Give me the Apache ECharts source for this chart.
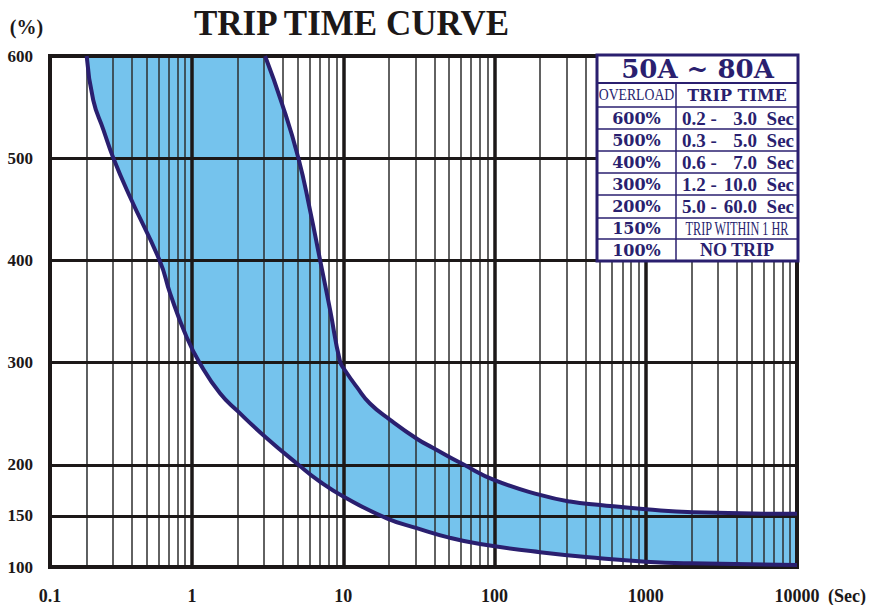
<!DOCTYPE html>
<html><head><meta charset="utf-8">
<script src="https://cdn.jsdelivr.net/npm/echarts@6/dist/echarts.min.js"></script>
<style>html,body{margin:0;padding:0;background:#fff}#c{width:871px;height:605px}</style>
</head><body><div id="c"></div>
<script>
// ---- data ----
const titleText = 'TRIP TIME CURVE';
const yAxisName = '(%)';
const xAxisName = '(Sec)';
const xTickValues = [0.115, 1, 10, 100, 1000, 10000];
const xTickLabels = ['0.1', '1', '10', '100', '1000', '10000'];
const yTickValues = [100, 150, 200, 300, 400, 500, 600];
const xMajorLines = [1, 10, 100, 1000];
const xDecades = [0.1, 1, 10, 100, 1000];
const xMinorSteps = [2, 3, 4, 5, 6, 7, 8, 9];
const yGridLines = [150, 200, 300, 400, 500];
// minimum trip time (left boundary): [seconds, % overload]
const minCurve = [[0.201, 600], [0.222, 557], [0.259, 528], [0.302, 500], [0.389, 462], [0.614, 399], [0.715, 368], [0.92, 325], [1.13, 299], [1.53, 270], [2.02, 252], [3.04, 227.5], [5.05, 200], [7.0, 183.5], [10, 169], [19.4, 147.6], [30.6, 138], [50.9, 128.5], [80.3, 122.5], [200, 114.5], [500, 108.5], [1000, 105.2], [2000, 103.6], [10000, 102]];
// maximum trip time (right boundary)
const maxCurve = [[3.04, 600], [3.92, 554], [5.05, 500], [6.03, 449], [7.03, 400], [8.18, 351.5], [9.52, 301], [10.2, 293], [12.3, 276], [15, 260], [20.4, 244], [31, 225], [39.3, 216.5], [62, 200.5], [100, 185], [200, 170.5], [316, 164], [500, 160.7], [1000, 156.5], [2056, 153.5], [10000, 152]];
const topBand = [[0.201, 600], [3.04, 600]];
// table
const tableTitle = '50A ~ 80A';
const overloadHeader = 'OVERLOAD';
const tripHeader = 'TRIP TIME';
const overloadLabels = ['600%', '500%', '400%', '300%', '200%', '150%', '100%'];
const tripMin = ['0.2 -', '0.3 -', '0.6 -', '1.2 -', '5.0 -'];
const tripMax = ['3.0', '5.0', '7.0', '10.0', '60.0'];
const tripUnit = 'Sec';
const tripNotes = ['TRIP WITHIN 1 HR', 'NO TRIP'];

// ---- styles ----
const NAVY = '#2a1f6f';
const BLUE = '#75c3ed';
const INK = '#1c1818';
const SERIF = '"Liberation Serif", "Times New Roman", serif';
const WIDE = '"DejaVu Serif", serif';
const SMOOTH = 0.5;

const xMinorLines = [];
xDecades.forEach(d => xMinorSteps.forEach(k => xMinorLines.push(+(d * k).toPrecision(3))));

const gridLineData = []
  .concat(xMinorLines.map(v => ({ xAxis: v, lineStyle: { color: '#2e2e2e', width: 1.5, type: 'solid' } })))
  .concat(xMajorLines.map(v => ({ xAxis: v, lineStyle: { color: INK, width: 3.5, type: 'solid' } })))
  .concat(yGridLines.map(v => ({ yAxis: v, lineStyle: { color: INK, width: 3, type: 'solid' } })));

function xLabel(v) {
  let best = 0, bd = Infinity;
  xTickValues.forEach((t, i) => { const d = Math.abs(Math.log10(t) - Math.log10(v)); if (d < bd) { bd = d; best = i; } });
  return xTickLabels[best];
}

// table layout
const TX = 597, TY = 55, TW = 201, TH = 206, COL = 676;
const rowLines = [83, 107, 129, 151, 173, 195, 218, 239];
const rowCenters = [118, 140, 162, 184, 206.5, 228.5, 250];

const tableEls = [];
tableEls.push({ type: 'rect', shape: { x: TX, y: TY, width: TW, height: TH }, style: { fill: '#fff', stroke: NAVY, lineWidth: 3 }, z: 20 });
rowLines.forEach((y, i) => tableEls.push({ type: 'line', shape: { x1: TX, y1: y, x2: TX + TW, y2: y }, style: { stroke: NAVY, lineWidth: i === 0 ? 2 : 1.5 }, z: 21 }));
tableEls.push({ type: 'line', shape: { x1: COL, y1: rowLines[0], x2: COL, y2: TY + TH }, style: { stroke: NAVY, lineWidth: 1.5 }, z: 21 });
function txt(s, x, y, font, align, extra) {
  return Object.assign({ type: 'text', x: x, y: y, z: 22, style: { text: s, font: font, fill: NAVY, textAlign: align, textVerticalAlign: 'middle', align: align, verticalAlign: 'middle' } }, extra || {});
}
tableEls.push(txt(tableTitle, TX + TW / 2, 69, 'bold 26px ' + WIDE, 'center'));
tableEls.push(txt(overloadHeader, (TX + COL) / 2, 95, '16px ' + SERIF, 'center', { scaleX: 0.86 }));
tableEls.push(txt(tripHeader, (COL + TX + TW) / 2, 95, 'bold 16px ' + WIDE, 'center'));
overloadLabels.forEach((s, i) => tableEls.push(txt(s, (TX + COL) / 2, rowCenters[i], 'bold 16px ' + WIDE, 'center')));
tripMin.forEach((s, i) => {
  tableEls.push(txt(s, 682, rowCenters[i], 'bold 19px ' + SERIF, 'left'));
  tableEls.push(txt(tripMax[i], 757, rowCenters[i], 'bold 19px ' + SERIF, 'right'));
  tableEls.push(txt(tripUnit, 794, rowCenters[i], 'bold 19px ' + SERIF, 'right'));
});
tableEls.push(txt(tripNotes[0], (COL + TX + TW) / 2, rowCenters[5], '18px ' + SERIF, 'center', { scaleX: 0.68 }));
tableEls.push(txt(tripNotes[1], (COL + TX + TW) / 2, rowCenters[6], 'bold 18px ' + SERIF, 'center'));

const chart = echarts.init(document.getElementById('c'), null, { renderer: 'svg' });
const common = { type: 'line', showSymbol: false, symbol: 'none', silent: true, animation: false };
chart.setOption({
  animation: false,
  backgroundColor: '#fff',
  title: { text: titleText, left: 194, top: 6, padding: 0, textStyle: { fontFamily: SERIF, fontWeight: 'bold', fontSize: 35, color: INK } },
  grid: { left: 50, right: 74, top: 56, bottom: 38, show: true, backgroundColor: 'transparent', borderColor: INK, borderWidth: 4, z: 8, containLabel: false, outerBoundsMode: 'none' },
  xAxis: {
    type: 'log', logBase: 10, min: xTickValues[0], max: xTickValues[xTickValues.length - 1],
    axisLine: { show: false }, axisTick: { show: false }, splitLine: { show: false },
    axisLabel: { customValues: xTickValues, formatter: xLabel, margin: 20, fontFamily: SERIF, fontWeight: 'bold', fontSize: 18, color: INK, showMinLabel: true, showMaxLabel: true }
  },
  yAxis: {
    type: 'value', min: yTickValues[0], max: yTickValues[yTickValues.length - 1],
    axisLine: { show: false }, axisTick: { show: false }, splitLine: { show: false },
    axisLabel: { customValues: yTickValues, margin: 17, fontFamily: SERIF, fontWeight: 'bold', fontSize: 17, color: INK }
  },
  series: [
    Object.assign({}, common, { name: 'band-top', data: topBand, z: 1, lineStyle: { width: 0 }, areaStyle: { color: BLUE, opacity: 1, origin: 'start' } }),
    Object.assign({}, common, { name: 'band-max', data: maxCurve, smooth: SMOOTH, z: 1, lineStyle: { width: 0 }, areaStyle: { color: BLUE, opacity: 1, origin: 'start' } }),
    Object.assign({}, common, { name: 'band-min', data: minCurve, smooth: SMOOTH, z: 2, lineStyle: { width: 0 }, areaStyle: { color: '#ffffff', opacity: 1, origin: 'start' },
      markLine: { silent: true, symbol: 'none', z: 5, label: { show: false }, animation: false, data: gridLineData } }),
    Object.assign({}, common, { name: 'Max trip time', data: maxCurve, smooth: SMOOTH, z: 10, lineStyle: { color: NAVY, width: 4 } }),
    Object.assign({}, common, { name: 'Min trip time', data: minCurve, smooth: SMOOTH, z: 10, lineStyle: { color: NAVY, width: 4 } })
  ],
  graphic: [
    { type: 'text', x: 26.5, y: 27, z: 22, style: { text: yAxisName, font: 'bold 20px ' + SERIF, fill: INK, align: 'center', verticalAlign: 'middle', textAlign: 'center', textVerticalAlign: 'middle' } },
    { type: 'text', x: 847, y: 596, z: 22, style: { text: xAxisName, font: 'bold 18px ' + SERIF, fill: INK, align: 'center', verticalAlign: 'middle', textAlign: 'center', textVerticalAlign: 'middle' } }
  ].concat(tableEls)
});
</script>
</body></html>
